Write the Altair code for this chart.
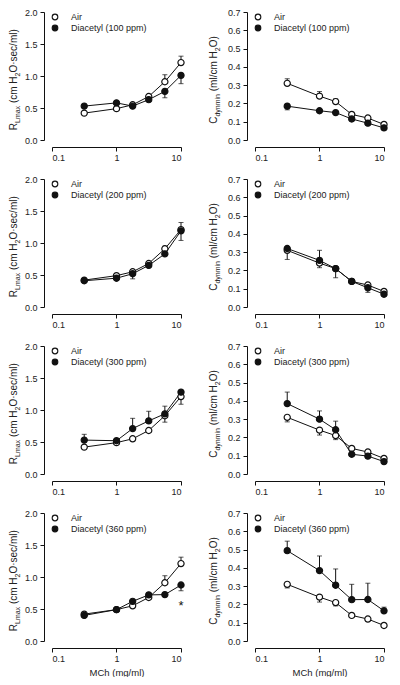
import altair as alt
import pandas as pd

# ---------------- data ----------------
DOSES = [0.316, 1.0, 1.78, 3.16, 5.62, 10.0]          # MCh (mg/ml)
X_TICKS = [0.1, 1, 10]
R_TICKS = [0.0, 0.5, 1.0, 1.5, 2.0]
C_TICKS = [0.0, 0.1, 0.2, 0.3, 0.4, 0.5, 0.6, 0.7]
EXPOSURES = ["100 ppm", "200 ppm", "300 ppm", "360 ppm"]
SERIES = ["Air", "Diacetyl"]

AIR_R = [0.42, 0.49, 0.55, 0.68, 0.91, 1.21]
AIR_C = [0.31, 0.24, 0.21, 0.14, 0.12, 0.085]

# signed error bars as drawn (+ = up, - = down)
AIR_R_ERR_100 = [0.02, 0.02, 0.02, 0.03, 0.11, 0.10]
DIA_R_100 = [0.53, 0.58, 0.53, 0.63, 0.76, 1.01]
DIA_R_ERR_100 = [-0.02, -0.02, -0.02, -0.02, -0.10, -0.13]
AIR_C_ERR_100 = [0.025, 0.025, 0.015, 0.01, 0.01, 0.01]
DIA_C_100 = [0.185, 0.16, 0.15, 0.115, 0.092, 0.066]
DIA_C_ERR_100 = [-0.02, -0.01, -0.01, -0.01, -0.01, -0.01]

AIR_R_ERR_200 = [0.02, 0.02, 0.03, 0.03, 0.04, 0.11]
DIA_R_200 = [0.41, 0.45, 0.52, 0.65, 0.83, 1.19]
DIA_R_ERR_200 = [-0.01, -0.03, -0.08, -0.02, -0.02, -0.15]
AIR_C_ERR_200 = [-0.05, -0.025, -0.05, -0.01, -0.01, -0.01]
DIA_C_200 = [0.32, 0.255, 0.21, 0.14, 0.105, 0.07]
DIA_C_ERR_200 = [0.01, 0.055, 0.01, 0.01, -0.025, -0.01]

AIR_R_ERR_300 = [-0.02, -0.02, -0.03, -0.03, -0.10, -0.12]
DIA_R_300 = [0.53, 0.52, 0.71, 0.83, 0.94, 1.28]
DIA_R_ERR_300 = [0.09, 0.02, 0.16, 0.15, 0.12, 0.02]
AIR_C_ERR_300 = [-0.025, -0.027, -0.022, 0.01, 0.01, 0.01]
DIA_C_300 = [0.385, 0.30, 0.242, 0.108, 0.098, 0.068]
DIA_C_ERR_300 = [0.063, 0.045, 0.047, -0.01, -0.01, -0.01]

AIR_R_ERR_360 = [0.02, 0.02, 0.03, 0.03, 0.11, 0.10]
DIA_R_360 = [0.40, 0.49, 0.62, 0.72, 0.725, 0.875]
DIA_R_ERR_360 = [-0.02, -0.02, -0.02, -0.02, -0.02, -0.09]
AIR_C_ERR_360 = [-0.02, -0.027, -0.018, -0.01, -0.01, -0.01]
DIA_C_360 = [0.494, 0.385, 0.305, 0.226, 0.227, 0.165]
DIA_C_ERR_360 = [0.052, 0.08, 0.089, 0.084, 0.089, 0.02]

STAR_DOSE = [10.0]
STAR_Y = [0.60]

# ---------------- styling ----------------
W, H = 129, 128
BLACK = "#111111"
TXT = "#222222"
FONT = "Liberation Sans"
ONE = pd.DataFrame({"k": [0]})

CW = {' ': 278, '(': 333, ')': 333, '/': 278, '\u00b7': 278, '.': 278,
      'C': 722, 'H': 722, 'L': 556, 'M': 833, 'O': 778, 'R': 722,
      'a': 556, 'c': 500, 'd': 556, 'e': 556, 'i': 222, 'l': 222, 'm': 833,
      'n': 556, 's': 500, 'x': 500, 'y': 500}


def seg_width(text, size):
    return sum(CW.get(ch, 556) for ch in text) / 1000.0 * size


def ytitle_layers(segments, xpix):
    total = sum(seg_width(t, s) for t, s, _ in segments)
    start = H / 2 + total / 2 + 4
    out, cum = [], 0.0
    for t, s, shift in segments:
        lead = len(t) - len(t.lstrip(" "))
        cum += seg_width(t[:lead], s)
        body = t.lstrip(" ")
        out.append(
            alt.Chart(ONE).mark_text(angle=270, align="left", baseline="alphabetic",
                                     fontSize=s, dy=shift, color=TXT, font=FONT)
            .encode(x=alt.value(xpix), y=alt.value(start - cum), text=alt.value(body))
        )
        cum += seg_width(body, s)
    return out


R_TITLE = [("R", 10, 0), ("Lmax", 7, 2.5), (" (cm H", 10, 0), ("2", 7, 2.5), ("O\u00b7sec/ml)", 10, 0)]
C_TITLE = [("C", 10, 0), ("dynmin", 7, 2.5), (" (ml/cm H", 10, 0), ("2", 7, 2.5), ("O)", 10, 0)]


def panel(kind, air_err, dia_mean, dia_err, exposure, bottom, star=False):
    air_mean = AIR_R if kind == "R" else AIR_C
    rows = []
    for s, means, errs in [("Air", air_mean, air_err), ("Diacetyl", dia_mean, dia_err)]:
        for d, m, e in zip(DOSES, means, errs):
            rows.append({"dose": d, "series": s, "mean": m, "end": m + e})
    df = pd.DataFrame(rows)

    if kind == "R":
        ydom, yticks, title, tx = [0, 2], R_TICKS, R_TITLE, -35
    else:
        ydom, yticks, title, tx = [0, 0.7], C_TICKS, C_TITLE, -38

    xscale = alt.Scale(type="log", domain=[0.1, 10], nice=False)
    xaxis = alt.Axis(values=X_TICKS, format="~g", offset=7, tickSize=4,
                     labelPadding=2, grid=False, labelOverlap=False,
                     title="MCh (mg/ml)" if bottom else None, titlePadding=4)
    yscale = alt.Scale(domain=ydom, nice=False, zero=True)
    yaxis = alt.Axis(values=yticks, tickCount=len(yticks), format=".1f", offset=8,
                     tickSize=4, labelPadding=3, grid=False, title=None,
                     labelOverlap=False)

    def X():
        return alt.X("dose:Q", scale=xscale, axis=xaxis)

    def Y(field):
        return alt.Y(field, scale=yscale, axis=yaxis)

    base = alt.Chart(df)
    lines = base.mark_line(color=BLACK, strokeWidth=1).encode(
        x=X(), y=Y("mean:Q"), detail="series:N")
    bars = base.mark_rule(color=BLACK, strokeWidth=1).encode(
        x=X(), y=Y("mean:Q"), y2="end:Q")
    caps = base.mark_tick(orient="horizontal", size=5, thickness=1, color=BLACK).encode(
        x=X(), y=Y("end:Q"))
    pts = base.mark_point(shape="circle", filled=True, size=38, stroke=BLACK,
                          strokeWidth=1.2, opacity=1).encode(
        x=X(), y=Y("mean:Q"),
        fill=alt.Fill("series:N", scale=alt.Scale(domain=SERIES, range=["white", BLACK]),
                      legend=None))

    layers = [lines, bars, caps, pts]

    labels = ["Air", "Diacetyl (%s)" % exposure]
    for i, (lab, fill) in enumerate(zip(labels, ["white", BLACK])):
        yy = 5 + 11 * i
        layers.append(alt.Chart(ONE).mark_point(shape="circle", filled=True, fill=fill,
                                                stroke=BLACK, strokeWidth=1.1, size=32,
                                                opacity=1)
                      .encode(x=alt.value(3), y=alt.value(yy)))
        layers.append(alt.Chart(ONE).mark_text(align="left", baseline="middle", fontSize=9,
                                               color=TXT, font=FONT)
                      .encode(x=alt.value(19), y=alt.value(yy), text=alt.value(lab)))

    if star:
        sdf = pd.DataFrame({"dose": STAR_DOSE, "mean": STAR_Y})
        layers.append(alt.Chart(sdf).mark_text(text="*", fontSize=13, color=BLACK,
                                               baseline="middle", dy=3, font=FONT)
                      .encode(x=X(), y=Y("mean:Q")))

    layers += ytitle_layers(title, tx)
    return alt.layer(*layers).properties(width=W, height=H)


rows = [
    (AIR_R_ERR_100, DIA_R_100, DIA_R_ERR_100, AIR_C_ERR_100, DIA_C_100, DIA_C_ERR_100),
    (AIR_R_ERR_200, DIA_R_200, DIA_R_ERR_200, AIR_C_ERR_200, DIA_C_200, DIA_C_ERR_200),
    (AIR_R_ERR_300, DIA_R_300, DIA_R_ERR_300, AIR_C_ERR_300, DIA_C_300, DIA_C_ERR_300),
    (AIR_R_ERR_360, DIA_R_360, DIA_R_ERR_360, AIR_C_ERR_360, DIA_C_360, DIA_C_ERR_360),
]

row_charts = []
for i, (are, dr, dre, ace, dc, dce) in enumerate(rows):
    bottom = i == len(rows) - 1
    left = panel("R", are, dr, dre, EXPOSURES[i], bottom, star=bottom)
    right = panel("C", ace, dc, dce, EXPOSURES[i], bottom)
    row_charts.append(alt.hconcat(left, right, spacing=21))

chart = alt.vconcat(*row_charts, spacing=13).properties(padding=0).configure_view(
    stroke=None
).configure_axis(
    labelFont=FONT, titleFont=FONT, labelFontSize=9, titleFontSize=9.5,
    titleFontWeight="normal", labelColor=TXT, titleColor=TXT,
    domainColor=BLACK, tickColor=BLACK, domainWidth=1, tickWidth=1,
    labelOverlap=False
).configure_text(font=FONT)

chart.save("out.html", embed_options={"renderer": "svg", "actions": False})
